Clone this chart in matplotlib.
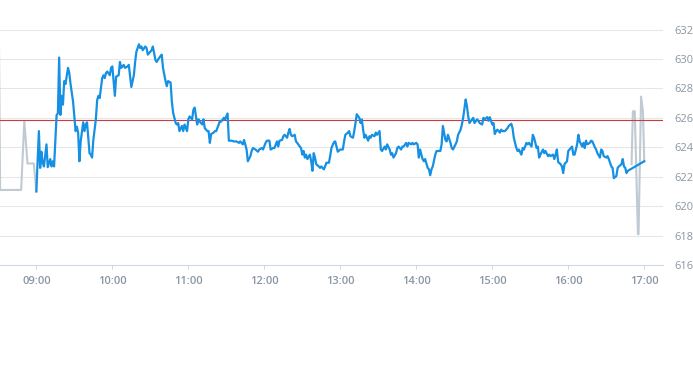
import matplotlib
matplotlib.use("Agg")
import matplotlib.pyplot as plt

# all times are minutes after 09:00
pre_min = [-29.5, -28.6, -12, -9.5, -7, -2, 0]
pre_px = [631.0, 621.1, 621.1, 625.8, 622.9, 622.9, 621.0]

day_min = [0, 2, 3, 4, 5, 6, 8, 9, 11, 12, 13, 14, 16, 17, 18, 19, 20, 21, 22, 23,
           25, 26, 27, 29, 31, 32, 33, 34, 35, 37, 38, 39, 40, 42, 43, 44, 45, 47, 48, 49,
           50, 52, 53, 54, 55, 56, 58, 59, 60, 62, 63, 65, 66, 67, 69, 70, 72, 73, 75, 77,
           78, 79, 81, 82, 83, 84, 86, 87, 88, 90, 91, 92, 94, 95, 96, 98, 99, 100, 102, 103,
           104, 106, 107, 108, 110, 111, 112, 113, 115, 116, 117, 119, 120, 121, 123, 124, 125, 127, 128, 129,
           131, 132, 133, 135, 136, 137, 138, 140, 141, 142, 144, 145, 146, 148, 149, 150, 151, 152, 154, 156,
           158, 160, 161, 163, 164, 166, 167, 169, 170, 171, 173, 175, 176, 178, 179, 181, 182, 184, 185, 187,
           188, 190, 191, 192, 194, 195, 196, 198, 199, 200, 201, 202, 204, 205, 206, 208, 209, 210, 211, 212,
           213, 214, 216, 217, 218, 219, 220, 221, 223, 224, 225, 227, 228, 229, 231, 232, 233, 235, 236, 237,
           238, 240, 242, 243, 244, 246, 247, 248, 250, 251, 252, 253, 255, 256, 257, 258, 259, 260, 262, 263,
           264, 265, 267, 268, 269, 271, 272, 273, 275, 276, 277, 279, 280, 281, 282, 284, 285, 286, 288, 289,
           290, 292, 293, 294, 296, 297, 298, 300, 301, 302, 303, 304, 305, 306, 307, 309, 310, 311, 312, 313,
           315, 316, 317, 319, 320, 321, 323, 324, 325, 327, 328, 329, 331, 332, 333, 335, 336, 337, 339, 340,
           341, 342, 344, 345, 346, 348, 349, 350, 352, 353, 354, 356, 357, 358, 360, 361, 362, 363, 364, 366,
           367, 368, 370, 371, 372, 373, 375, 376, 377, 379, 380, 381, 383, 384, 385, 387, 388, 389, 391, 392,
           393, 395, 396, 397, 398, 400, 401, 402, 404, 405, 406, 408, 409, 410, 411, 412, 414, 415, 416, 417,
           419, 420, 421, 423, 424, 425, 427, 428, 429, 431, 432, 433, 434, 435, 437, 438, 439, 441, 442, 443,
           445, 446, 447, 448, 450, 451, 452, 454, 455, 456, 458, 459, 460, 462, 463, 464, 465, 466, 467, 480]
day_px = [621.0, 625.1, 622.6, 623.7, 622.95, 622.7, 624.2, 622.65, 623.2, 622.7, 623.05, 622.7, 626.2, 626.3, 630.1, 626.2, 627.5, 626.9, 628.5, 628.3,
          629.4, 629.05, 628.3, 627.1, 625.1, 625.4, 625.0, 623.05, 624.4, 625.7, 625.1, 625.55, 625.7, 623.6, 623.5, 623.3, 624.5, 625.9, 627.2, 627.5,
          627.35, 628.7, 628.9, 628.7, 629.05, 629.15, 628.9, 629.4, 629.5, 627.5, 628.8, 628.9, 629.8, 629.4, 629.6, 629.4, 629.5, 629.6, 628.1, 628.9,
          629.8, 630.5, 631.0, 630.75, 630.85, 630.6, 630.85, 630.75, 630.3, 630.5, 630.6, 630.85, 629.95, 629.8, 629.95, 630.2, 630.3, 629.4, 628.5, 628.15,
          628.5, 628.4, 627.1, 626.35, 625.65, 625.55, 625.65, 625.1, 625.45, 625.1, 625.55, 625.1, 625.9, 626.1, 625.9, 626.55, 626.7, 625.55, 625.9, 625.75,
          625.55, 625.9, 625.3, 625.1, 625.1, 624.3, 624.9, 625.0, 625.1, 625.1, 625.55, 625.8, 625.75, 626.0, 625.9, 626.1, 626.3, 624.45, 624.45, 624.4,
          624.4, 624.3, 624.4, 624.2, 624.5, 623.85, 623.05, 623.4, 623.75, 623.95, 623.85, 623.7, 623.85, 623.95, 623.85, 624.3, 624.45, 624.45, 623.85, 623.95,
          623.95, 624.4, 624.05, 624.45, 624.5, 624.75, 624.85, 624.65, 625.0, 625.25, 624.85, 624.75, 624.85, 624.4, 624.3, 624.05, 623.95, 623.5, 623.75, 623.3,
          623.5, 623.2, 623.5, 623.05, 622.4, 623.6, 623.3, 622.85, 622.7, 622.6, 622.7, 622.5, 622.7, 622.95, 622.95, 623.4, 623.95, 624.35, 624.4, 624.05,
          623.7, 623.85, 623.85, 624.4, 624.85, 625.0, 625.1, 624.75, 624.65, 625.1, 625.65, 626.25, 626.0, 625.65, 625.9, 625.2, 624.65, 624.85, 624.45, 624.75,
          624.65, 624.85, 624.75, 625.0, 624.85, 625.1, 623.85, 623.75, 624.05, 623.85, 624.2, 623.85, 623.5, 623.6, 623.3, 623.6, 623.95, 624.05, 623.85, 624.05,
          624.05, 624.3, 624.05, 624.3, 624.2, 624.3, 624.2, 624.3, 624.2, 623.3, 623.85, 623.5, 623.2, 623.05, 623.2, 622.6, 622.5, 622.1, 622.5, 622.7,
          623.5, 623.75, 623.75, 623.75, 624.2, 625.45, 624.5, 624.4, 624.85, 624.3, 623.95, 623.85, 624.2, 624.4, 624.85, 625.2, 625.55, 626.0, 627.25, 626.8,
          626.1, 625.65, 625.9, 626.0, 625.65, 625.9, 625.8, 625.65, 625.55, 626.0, 625.9, 626.05, 625.8, 626.05, 625.55, 625.65, 624.9, 625.1, 625.2, 625.0,
          625.2, 625.1, 625.1, 625.2, 625.3, 625.45, 625.6, 625.3, 624.65, 623.95, 623.75, 623.85, 623.5, 623.95, 623.85, 624.3, 624.2, 624.3, 624.05, 624.85,
          624.65, 623.95, 624.05, 623.3, 623.5, 623.85, 623.6, 623.75, 623.4, 623.5, 623.4, 623.5, 623.2, 623.5, 623.85, 623.0, 622.85, 622.7, 622.25, 622.85,
          623.05, 623.75, 623.85, 624.05, 623.5, 623.5, 624.2, 624.85, 624.4, 624.05, 624.3, 623.95, 624.45, 624.2, 624.3, 624.45, 624.4, 624.0, 623.85, 623.6,
          623.3, 623.85, 623.75, 623.4, 623.3, 623.4, 623.2, 622.7, 622.6, 621.9, 622.05, 622.6, 622.7, 622.85, 623.2, 622.7, 622.6, 622.25, 622.4, 623.05]

post_min = [470, 471, 472.5, 475, 475.5, 477.5, 479, 480]
post_px = [622.85, 626.45, 626.45, 618.1, 618.1, 627.45, 626.4, 623.05]

ref_price = 625.85
hour_labels = ["09:00", "10:00", "11:00", "12:00", "13:00", "14:00", "15:00", "16:00", "17:00"]
price_ticks = [616, 618, 620, 622, 624, 626, 628, 630, 632]

label_col = "#8a96a3"
axis_col = "#ccd6eb"

fig = plt.figure(figsize=(6.93, 3.65), dpi=100)
ax = fig.add_axes([0, 0.274, 0.9567, 0.6457])

ax.plot(pre_min, pre_px, color="#c0cad3", lw=1.5, zorder=2)
ax.plot(post_min, post_px, color="#c0cad3", lw=1.5, zorder=2)
ax.axhline(ref_price, color="#d03a3a", lw=0.8, zorder=3)
ax.plot(day_min, day_px, color="#1590e3", lw=1.6, zorder=4)

ax.set_xlim(-28.7, 494.8)
ax.set_ylim(616, 632.02)

ax.set_xticks([i * 60 for i in range(len(hour_labels))])
ax.set_xticklabels(hour_labels, fontfamily="Open Sans", fontweight="semibold")
ax.set_yticks(price_ticks)
ax.set_yticklabels([str(p) for p in price_ticks], fontfamily="Open Sans")

ax.yaxis.tick_right()
ax.tick_params(axis="y", length=0, pad=8, labelsize=8, labelcolor=label_col)
ax.tick_params(axis="x", length=3, width=0.75, color=axis_col, pad=5,
               labelsize=8, labelcolor=label_col)

ax.yaxis.grid(True, color="#e6e6e6", lw=0.75, zorder=0)
for s in ["top", "left", "right"]:
    ax.spines[s].set_visible(False)
ax.spines["bottom"].set_color(axis_col)
ax.spines["bottom"].set_linewidth(0.75)

fig.savefig("out.png", dpi=100)
